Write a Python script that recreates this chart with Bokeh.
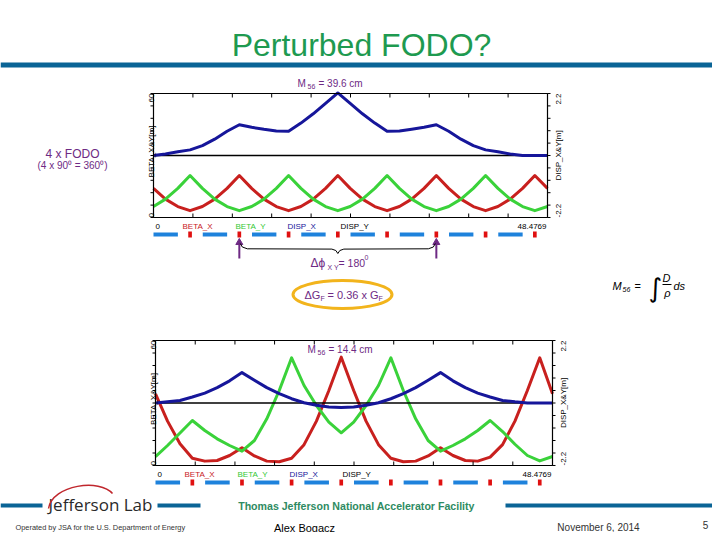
import math
from bokeh.plotting import figure
from bokeh.models import Range1d
from bokeh.embed import file_html
from bokeh.resources import INLINE
from bokeh.core.properties import value

# ---------------- data ----------------
RING_LENGTH = 48.4769
s = [0.0, 1.47, 2.99, 4.5, 6.02, 7.53, 9.05, 10.56, 12.08, 13.59, 15.11, 16.62,
     18.14, 19.65, 21.17, 22.68, 24.2, 25.71, 27.23, 28.74, 30.26, 31.77, 33.29,
     34.8, 36.32, 37.83, 39.35, 40.86, 42.38, 43.89, 45.41, 46.92, 48.4769]

# unperturbed 4 x FODO
top_beta_x = [14.1, 8.9, 5.3, 3.3, 5.3, 8.9, 14.1, 20.3, 14.1, 8.9, 5.3, 3.3,
              5.3, 8.9, 14.1, 20.3, 14.1, 8.9, 5.3, 3.3, 5.3, 8.9, 14.1,
              20.3, 14.1, 8.9, 5.3, 3.3, 5.3, 8.9, 14.1, 20.3, 14.1]
top_beta_y = [5.3, 8.9, 14.1, 20.3, 14.1, 8.9, 5.3, 3.3, 5.3, 8.9, 14.1, 20.3,
              14.1, 8.9, 5.3, 3.3, 5.3, 8.9, 14.1, 20.3, 14.1, 8.9, 5.3,
              3.3, 5.3, 8.9, 14.1, 20.3, 14.1, 8.9, 5.3, 3.3, 5.3]
top_disp_x = [0.0, 0.05, 0.13, 0.20, 0.35, 0.58, 0.86, 1.09, 1.00, 0.93, 0.87, 0.86,
              1.15, 1.48, 1.85, 2.22, 1.85, 1.48, 1.15, 0.86, 0.87, 0.93, 1.00,
              1.09, 0.86, 0.58, 0.35, 0.20, 0.13, 0.05, 0.0, 0.0, 0.0]

# perturbed (dG_F = 0.36 G_F)
bot_beta_x = [34.4, 21.3, 10.4, 3.5, 2.1, 2.4, 4.8, 8.5, 4.6, 2.1, 1.8, 3.5,
              10.0, 21.3, 36.0, 52.0, 36.0, 21.3, 10.0, 3.5, 1.8, 2.1, 4.6,
              8.5, 4.8, 2.4, 2.1, 4.0, 10.0, 21.3, 36.0, 51.7, 34.4]
bot_beta_y = [4.3, 9.6, 15.6, 21.6, 16.8, 12.8, 9.6, 6.9, 12.0, 22.4, 36.0, 51.7,
              38.4, 28.8, 20.8, 15.7, 20.8, 28.8, 38.4, 51.7, 36.0, 22.4, 12.0,
              6.9, 9.6, 12.8, 16.8, 21.6, 16.3, 10.2, 4.8, 2.2, 4.3]
bot_disp_x = [0.0, 0.04, 0.09, 0.21, 0.35, 0.54, 0.78, 1.07, 0.80, 0.54, 0.33, 0.15,
              0.01, -0.08, -0.14, -0.16, -0.14, -0.08, 0.01, 0.15, 0.33, 0.54, 0.80,
              1.07, 0.78, 0.54, 0.35, 0.21, 0.09, 0.04, 0.0, 0.0, 0.0]

disp_y_s = [0.0, RING_LENGTH]
disp_y = [0.0, 0.0]

quad_s = [4.5, 10.56, 16.62, 22.68, 28.74, 34.8, 40.86, 46.92]
quad_len = 0.45
dipole_start = [0.0, 6.06, 12.12, 18.18, 24.24, 30.3, 36.36, 42.42]
dipole_end = [3.0, 9.06, 15.12, 21.18, 27.24, 33.3, 39.36, 45.42]
perturbed_quads = [10.56, 34.8]

beta_lo, beta_hi = 0, 60
disp_lo, disp_hi = -2.2, 2.2
s_ticks = [4.85, 9.7, 14.54, 19.39, 24.24, 29.09, 33.93, 38.78, 43.63]
beta_ticks = [0, 6, 12, 18, 24, 30, 36, 42, 48, 54, 60]
disp_ticks = [-2.2, -1.76, -1.32, -0.88, -0.44, 0.0, 0.44, 0.88, 1.32, 1.76, 2.2]
legend_names = ["BETA_X", "BETA_Y", "DISP_X", "DISP_Y"]
m56_top = "39.6 cm"
m56_bot = "14.4 cm"

# ---------------- styling ----------------
RED = "#C8201E"
GREEN = "#3AD23A"
NAVY = "#16169A"
PURPLE = "#6E2A84"
BLUE_MAG = "#1E82DC"
RED_MAG = "#E01010"
BAND = "#0A6496"
TITLE_GREEN = "#1E9A50"
FONT = value("Liberation Sans")

W, H = 712, 532
OX, OY = 0, 0


def X(sx):
    return sx - OX


def Y(sy):
    return sy - OY


p = figure(width=W, height=H, x_range=Range1d(0, W), y_range=Range1d(H, 0),
           output_backend="svg", toolbar_location=None, min_border=0,
           x_axis_type=None, y_axis_type=None)
p.outline_line_color = None
p.background_fill_color = "white"
p.border_fill_color = "white"


def txt(x, y, t, size, color="black", align="left", baseline="middle",
        angle=0.0, style="normal", font=FONT, **kw):
    p.text(x=[x], y=[y], text=[t], text_font=font, text_font_size=f"{size}px",
           text_color=color, text_align=align, text_baseline=baseline,
           angle=angle, text_font_style=style, **kw)


TOP = (153, 547, 93, 217)
BOT = (155, 552, 340, 465)


def add_ranges(name, fr):
    l, r, t, b = fr
    ks = RING_LENGTH / (r - l)
    s0 = -(l - OX) * ks
    p.extra_x_ranges[name + "_s"] = Range1d(s0, s0 + W * ks)
    kb = (beta_hi - beta_lo) / (b - t)
    btop = beta_hi + (t - OY) * kb
    p.extra_y_ranges[name + "_beta"] = Range1d(btop - H * kb, btop)
    kd = (disp_hi - disp_lo) / (b - t)
    dtop = disp_hi + (t - OY) * kd
    p.extra_y_ranges[name + "_disp"] = Range1d(dtop - H * kd, dtop)


def draw_plot(name, fr, bx, by, dx, m56, m56_y, m56_x):
    add_ranges(name, fr)
    l, r, t, b = fr
    xs, yb, yd = name + "_s", name + "_beta", name + "_disp"
    # curves
    p.line(s, bx, x_range_name=xs, y_range_name=yb, line_color=RED, line_width=3, line_join="round")
    p.line(s, by, x_range_name=xs, y_range_name=yb, line_color=GREEN, line_width=3, line_join="round")
    p.line(disp_y_s, disp_y, x_range_name=xs, y_range_name=yd, line_color="black", line_width=1.5)
    p.line(s, dx, x_range_name=xs, y_range_name=yd, line_color=NAVY, line_width=3, line_join="round")
    # frame
    p.quad(left=[0], right=[RING_LENGTH], bottom=[beta_lo], top=[beta_hi],
           x_range_name=xs, y_range_name=yb, fill_color=None, line_color="black", line_width=1.2)
    n = len(s_ticks)
    p.segment(x0=s_ticks, x1=s_ticks, y0=[Y(b)] * n, y1=[Y(b - 4)] * n,
              x_range_name=xs, line_color="black", line_width=1)
    p.segment(x0=s_ticks, x1=s_ticks, y0=[Y(t)] * n, y1=[Y(t + 4)] * n,
              x_range_name=xs, line_color="black", line_width=1)
    m = len(beta_ticks)
    p.segment(x0=[X(l - 3)] * m, x1=[X(l)] * m, y0=beta_ticks, y1=beta_ticks,
              y_range_name=yb, line_color="black", line_width=1)
    k = len(disp_ticks)
    p.segment(x0=[X(r)] * k, x1=[X(r + 3)] * k, y0=disp_ticks, y1=disp_ticks,
              y_range_name=yd, line_color="black", line_width=1)
    # axis labels (rotated)
    a = math.pi / 2
    txt(X(l - 2), Y(t), "60", 8, align="right", baseline="alphabetic", angle=a)
    txt(X(l - 2), Y(b), "0", 8, align="left", baseline="alphabetic", angle=a)
    txt(X(l - 2), Y((t + b) / 2 - 4), "BETA_X&Y[m]", 8, align="center", baseline="alphabetic", angle=a)
    txt(X(r + 11), Y(t), "2.2", 8, align="right", baseline="alphabetic", angle=a)
    txt(X(r + 11), Y(b), "-2.2", 8, align="left", baseline="alphabetic", angle=a)
    txt(X(r + 11), Y((t + b) / 2), "DISP_X&Y[m]", 8, align="center", baseline="alphabetic", angle=a)
    # under-axis labels
    ly = Y(b + 9)
    txt(X(l + 2), ly, "0", 8)
    colors = [RED, "#33C833", NAVY, "black"]
    offs = [29, 82, 134, 187]
    for nm, c, o in zip(legend_names, colors, offs):
        txt(X(l + o), ly, nm, 8, color=c)
    txt(X(r - 1), ly, f"{RING_LENGTH:.4f}", 8, align="right")
    # magnets
    my = Y(b + 17)
    p.quad(left=dipole_start, right=dipole_end, top=[my - 2] * len(dipole_start),
           bottom=[my + 2] * len(dipole_start), x_range_name=xs,
           fill_color=BLUE_MAG, line_color=None)
    p.rect(x=quad_s, y=[my] * len(quad_s), width=quad_len, height=6,
           x_range_name=xs, fill_color=RED_MAG, line_color=None)
    # M56 label
    txt(X(m56_x), Y(m56_y), "M", 10, color=PURPLE)
    txt(X(m56_x + 10), Y(m56_y + 3), "56", 7, color=PURPLE)
    txt(X(m56_x + 21), Y(m56_y), "= " + m56, 10, color=PURPLE)


# title + band
txt(X(361), Y(44), "Perturbed FODO?", 32, color=TITLE_GREEN, align="center", baseline="alphabetic")
p.quad(left=[X(0)], right=[X(720)], top=[Y(62)], bottom=[Y(67)], fill_color=BAND, line_color=None)

draw_plot("top", TOP, top_beta_x, top_beta_y, top_disp_x, m56_top, 83, 297)
draw_plot("bot", BOT, bot_beta_x, bot_beta_y, bot_disp_x, m56_bot, 349, 307)

# left annotation
txt(X(72), Y(153), "4 x FODO", 12, color=PURPLE, align="center")
txt(X(72), Y(165), "(4 x 90\u2070 = 360\u2070)", 10, color=PURPLE, align="center")

# arrows marking the perturbed quads
p.segment(x0=perturbed_quads, x1=perturbed_quads, y0=[Y(258)] * 2, y1=[Y(243)] * 2,
          x_range_name="top_s", line_color=PURPLE, line_width=2)
p.scatter(x=perturbed_quads, y=[Y(242)] * 2, marker="triangle", size=7,
          x_range_name="top_s", fill_color=PURPLE, line_color=PURPLE)

# brace between the arrows
l, r = TOP[0], TOP[1]
xa = l + perturbed_quads[0] / RING_LENGTH * (r - l) + 1
xb = l + perturbed_quads[1] / RING_LENGTH * (r - l) - 1
xm = (xa + xb) / 2
bx_ = [xa, xa + 2, xa + 7, xm - 6, xm - 2, xm, xm + 2, xm + 6, xb - 7, xb - 2, xb]
by_ = [243, 246.5, 248.3, 248.6, 250, 253, 250, 248.6, 248.3, 246.5, 243]
p.line([X(v) for v in bx_], [Y(v) for v in by_], line_color="black", line_width=1)

# delta phi text
txt(X(310), Y(262), "\u0394\u03d5", 12, color=PURPLE)
txt(X(327), Y(267), "X Y", 7, color=PURPLE)
txt(X(338), Y(262), "= 180", 10.5, color=PURPLE)
txt(X(364), Y(257), "0", 7, color=PURPLE)

# circled gradient perturbation
p.ellipse(x=[X(342)], y=[Y(294)], width=99, height=28, fill_color=None,
          line_color="#F2B41C", line_width=3)
txt(X(304), Y(294), "\u0394G", 11, color=PURPLE)
txt(X(320), Y(298), "F", 7, color=PURPLE)
txt(X(327), Y(294), "= 0.36 x G", 11, color=PURPLE)
txt(X(378), Y(298), "F", 7, color=PURPLE)

# M56 formula
txt(X(612), Y(285), "M", 11, style="italic")
txt(X(622), Y(289), "56", 7, style="italic")
txt(X(634), Y(285), "=", 11)
txt(X(648), Y(287), "\u222b", 26, font=value("DejaVu Sans"))
txt(X(666), Y(277), "D", 11, style="italic", align="center")
p.segment(x0=[X(662)], x1=[X(671)], y0=[Y(284)], y1=[Y(284)], line_color="black", line_width=1)
txt(X(667), Y(292), "\u03c1", 11, style="italic", align="center")
txt(X(673), Y(285), "ds", 11, style="italic")

# footer
for x0, x1 in [(0, 42), (157, 200), (505, 720)]:
    p.quad(left=[X(x0)], right=[X(x1)], top=[Y(503)], bottom=[Y(507)], fill_color=BAND, line_color=None)
txt(X(100), Y(504), "Jefferson Lab", 17, color="#2a2a2a", align="center", font=value("Open Sans"))
p.bezier(x0=[X(48)], y0=[Y(508)], x1=[X(112)], y1=[Y(493)], cx0=[X(52)], cy0=[Y(484)],
         cx1=[X(100)], cy1=[Y(478)], line_color="#C0272D", line_width=1.5)
txt(X(356), Y(505), "Thomas Jefferson National Accelerator Facility", 10.6,
    color="#2E8B62", align="center", style="bold")
txt(X(15), Y(527), "Operated by JSA for the U.S. Department of Energy", 7.4, color="#333333")
txt(X(304), Y(527), "Alex Bogacz", 11, align="center")
txt(X(598), Y(527), "November 6, 2014", 10, color="#333333", align="center")
txt(X(705), Y(524), "5", 10, color="#333333", align="center")

open("out.html", "w").write(file_html(p, INLINE))
